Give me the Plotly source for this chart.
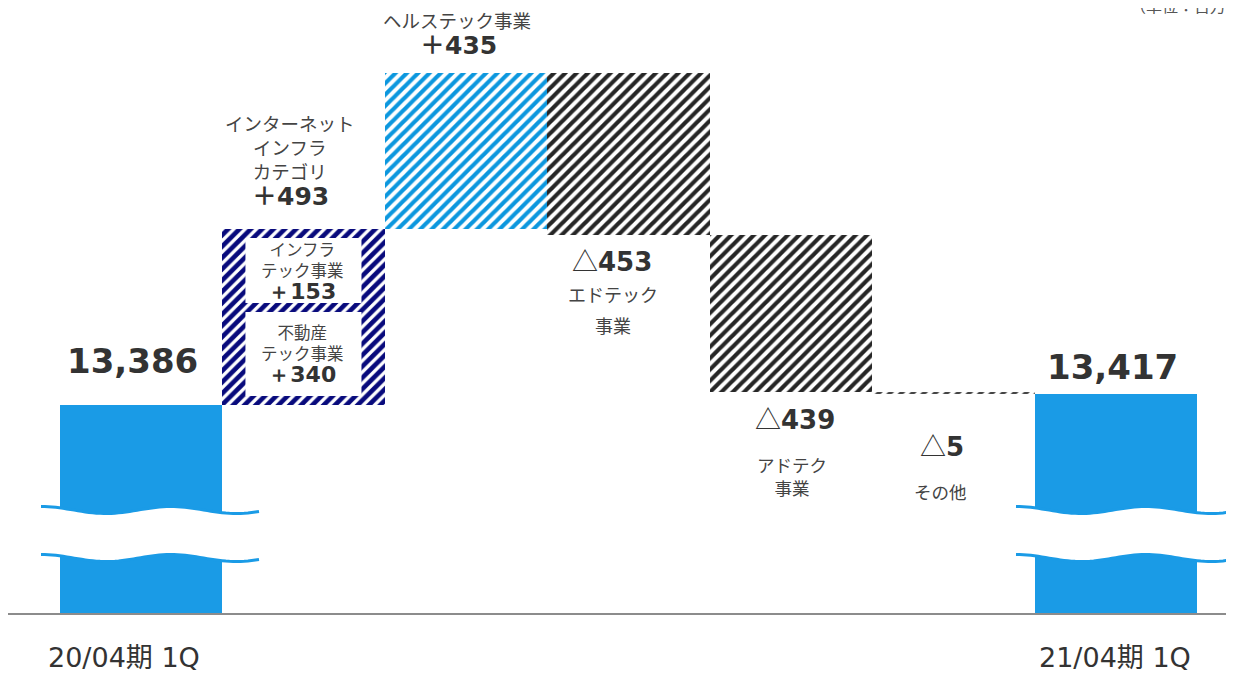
import numpy as np
import plotly.graph_objects as go

# ---------------- data ----------------
categories = ["20/04期 1Q", "インターネットインフラ", "ヘルステック事業",
              "エドテック事業", "アドテク事業", "その他", "21/04期 1Q"]
start_value = 13386
end_value = 13417
deltas = [493, 435, -453, -439, -5]
delta_texts = ["＋493", "＋435", "453", "439", "5"]
sub_names = [["インフラ", "テック事業"], ["不動産", "テック事業"]]
sub_values = [153, 340]
start_label = "13,386"
end_label = "13,417"
unit_label = "（単位：百万円）"

# ---------------- layout constants ----------------
OFF = 8                      # page body margin
W, H = 1234 - OFF, 674 - OFF
ML, MB = 0, 61
PH = H - MB                  # plot height in px (ref 8..613)
SCALE = 0.358                # px per unit
YMIN = 12805
YMAX = YMIN + PH / SCALE
XMIN, XMAX = -0.818, 6.726

BLUE = "#1a9be6"
LIGHT = "#0c97de"
NAVY = "#080a7c"
DARK = "#262626"
TXT = "#333333"
JTXT = "#444444"
JP = "Noto Sans CJK JP"
NUM = "DejaVu Sans, Noto Sans CJK JP"


def px2x(px):
    return XMIN + (px - OFF) / W * (XMAX - XMIN)


def py2y(py):
    return YMAX - (py - OFF) / PH * (YMAX - YMIN)


def pp(px, py):
    return (px - OFF) / W, (PH + OFF - py) / PH


fig = go.Figure()

# start / end bars
for i, v in [(0, start_value), (6, end_value)]:
    fig.add_trace(go.Bar(x=[i], y=[v], base=[0], width=1.0,
                         marker=dict(color=BLUE, line=dict(width=0)),
                         hoverinfo="skip", showlegend=False))

# floating bars
styles = [
    dict(fg=NAVY, solid=0.58),
    dict(fg=LIGHT, solid=0.52),
    dict(fg=DARK, solid=0.52),
    dict(fg=DARK, solid=0.52),
    dict(fg="#444444", solid=0.52),
]
cum = start_value
for k, d in enumerate(deltas):
    fig.add_trace(go.Bar(
        x=[k + 1], y=[d], base=[cum], width=1.0,
        marker=dict(color="white", line=dict(width=0),
                    pattern=dict(shape="/", fgcolor=styles[k]["fg"], bgcolor="white",
                                 size=8, solidity=styles[k]["solid"], fgopacity=1)),
        hoverinfo="skip", showlegend=False))
    cum += d

shapes = []
# white inner boxes on the internet-infra bar
for (t, b) in [(238, 303), (312, 396)]:
    shapes.append(dict(type="rect", xref="x", yref="y",
                       x0=1 - 0.357, x1=1 + 0.357, y0=py2y(b), y1=py2y(t),
                       fillcolor="white", line=dict(width=0), layer="above"))

# axis-break waves on the two end bars
for i in [0, 6]:
    cx = 141 + i * 162.5
    xs = np.linspace(cx - 100, cx + 118, 60)

    def wave(yc):
        return yc + 3.5 * np.cos(2 * np.pi * (xs - cx + 35) / 130)

    up = wave(510)
    lo = wave(558)
    pts_up = [(px2x(a), py2y(b)) for a, b in zip(xs, up)]
    pts_lo = [(px2x(a), py2y(b)) for a, b in zip(xs, lo)]
    poly = pts_up + pts_lo[::-1]
    path = "M " + " L ".join(f"{a},{b}" for a, b in poly) + " Z"
    shapes.append(dict(type="path", xref="x", yref="y", path=path,
                       fillcolor="white", line=dict(width=0), layer="above"))
    for pts in (pts_up, pts_lo):
        p = "M " + " L ".join(f"{a},{b}" for a, b in pts)
        shapes.append(dict(type="path", xref="x", yref="y", path=p,
                           line=dict(color=BLUE, width=3), layer="above"))

annotations = []


def ann(text, px, py, size, family=JP, color=JTXT, xanchor="center"):
    x, y = pp(px, py)
    annotations.append(dict(text=text, x=x, y=y, xref="paper", yref="paper",
                            xanchor=xanchor, yanchor="middle", showarrow=False,
                            font=dict(size=size, family=family, color=color)))


TRI = '<span style="font-family:Noto Sans CJK JP">△</span>'

# big totals
ann(f"<b>{start_label}</b>", 132, 361, 34, NUM, TXT)
ann(f"<b>{end_label}</b>", 1112, 367, 34, NUM, TXT)

# internet infra category
ann("インターネット<br>インフラ<br>カテゴリ", 290, 147, 18.5)
ann(f"<b>{delta_texts[0]}</b>", 290, 196, 25, NUM, TXT)
for (lines, v, yc) in [(sub_names[0], sub_values[0], 270),
                       (sub_names[1], sub_values[1], 353)]:
    num = f'<span style="font-size:22px;color:{TXT};font-family:DejaVu Sans"><b>＋{v}</b></span>'
    ann(lines[0] + "<br>" + lines[1] + "<br>" + num, 302, yc, 16.5)

# healthtech
ann(categories[2], 457, 20, 18.5)
ann(f"<b>{delta_texts[1]}</b>", 458, 46, 25, NUM, TXT)

# edtech
ann(f"{TRI}<b>{delta_texts[2]}</b>", 612, 260, 26, NUM, TXT)
ann("エドテック", 613, 294, 18)
ann("事業", 613, 325, 18)

# adtech
ann(f"{TRI}<b>{delta_texts[3]}</b>", 795, 417, 26, NUM, TXT)
ann("アドテク<br>事業", 792, 476, 17.5)

# others
ann(f"{TRI}<b>{delta_texts[4]}</b>", 942, 445, 26, NUM, TXT)
ann(categories[5], 940, 491, 17.5)

# x labels
ann(categories[0], 124, 657, 27, NUM, TXT)
ann(categories[6], 1115, 657, 27, NUM, TXT)

# unit (cut off at top, as in the reference)
ann(unit_label, 1128, 5, 16, JP, "#555555", xanchor="left")

fig.update_layout(
    width=W, height=H,
    margin=dict(l=ML, r=0, t=0, b=MB),
    paper_bgcolor="white", plot_bgcolor="white",
    barmode="overlay", bargap=0,
    shapes=shapes, annotations=annotations,
    xaxis=dict(range=[XMIN, XMAX], showgrid=False, zeroline=False,
               showticklabels=False, ticks="", showline=True,
               linecolor="#8c8c8c", linewidth=2, fixedrange=True),
    yaxis=dict(range=[YMIN, YMAX], visible=False, fixedrange=True),
    showlegend=False,
)

fig.write_html("out.html")
